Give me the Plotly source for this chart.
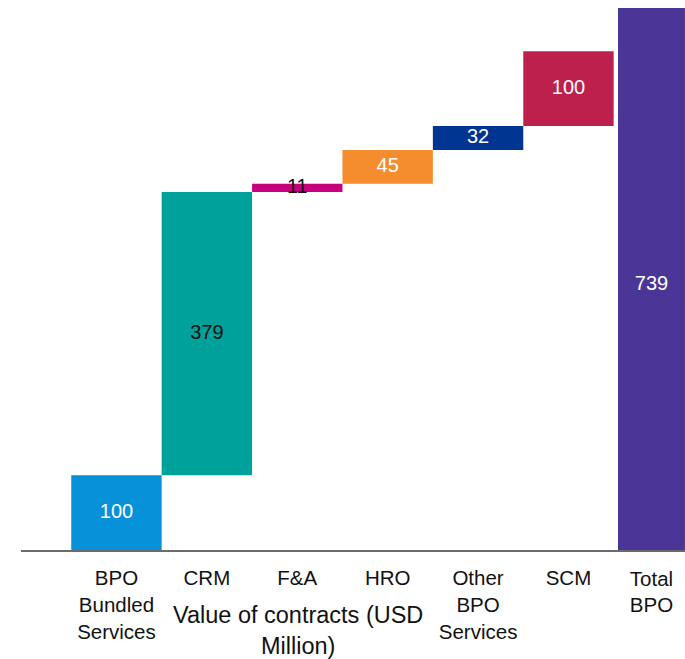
import plotly.graph_objects as go

categories = ["BPO<br>Bundled<br>Services", "CRM", "F&A", "HRO", "Other<br>BPO<br>Services", "SCM"]
values = [100, 379, 11, 45, 32, 100]
total_label = "Total<br>BPO"
total_value = 739
colors = ["#0791d9", "#00a19b", "#c7007d", "#f58d2f", "#003591", "#bd204c"]
text_colors = ["white", "#111111", "#111111", "white", "white", "white"]
total_color = "#4a3697"
axis_title = "Value of contracts (USD<br>Million)"

bases = []
run = 0
for v in values:
    bases.append(run)
    run += v
mids = [b + v / 2 for b, v in zip(bases, values)]

FONT = "Liberation Sans, Arial, sans-serif"

fig = go.Figure()
fig.add_trace(go.Bar(x=categories, y=values, base=bases, marker=dict(color=colors, line=dict(width=0)),
                     width=1.0, hoverinfo="skip"))
fig.add_trace(go.Scatter(x=categories, y=mids, mode="text", text=[str(v) for v in values],
                         textposition="middle center",
                         textfont=dict(family=FONT, size=20, color=text_colors), hoverinfo="skip"))
fig.add_trace(go.Bar(x=[total_label], y=[total_value], xaxis="x2", marker=dict(color=total_color, line=dict(width=0)),
                     width=0.741, hoverinfo="skip"))
fig.add_trace(go.Scatter(x=[total_label], y=[total_value * 0.5 - 15], xaxis="x2", mode="text", text=[str(total_value)],
                         textposition="middle center",
                         textfont=dict(family=FONT, size=20, color="white"), hoverinfo="skip"))

n = len(categories)
fig.update_layout(
    width=685, height=659,
    margin=dict(l=21, r=0, t=8, b=109),
    paper_bgcolor="white", plot_bgcolor="white",
    showlegend=False,
    barmode="overlay",
    font=dict(family=FONT, color="#111111"),
    xaxis=dict(type="category", range=[-1.056, n + 0.289], showgrid=False, zeroline=False,
               showline=True, linecolor="#6b6b6b", linewidth=1.5, layer="below traces",
               ticks="", tickfont=dict(family=FONT, size=20.5, color="#111111"), ticklabelstandoff=9),
    xaxis2=dict(type="category", overlaying="x", side="bottom", range=[-6.975, 0.371],
                showgrid=False, zeroline=False, showline=False, ticks="",
                tickfont=dict(family=FONT, size=20.5, color="#111111"), ticklabelstandoff=14),
    yaxis=dict(range=[0, 725], showgrid=False, zeroline=False, showline=False,
               showticklabels=False, ticks=""),
    annotations=[dict(text=axis_title, xref="paper", yref="paper", x=0.417, y=-0.093,
                      xanchor="center", yanchor="top", showarrow=False,
                      font=dict(family=FONT, size=23.5, color="#111111"))],
)

fig.write_html("out.html")
